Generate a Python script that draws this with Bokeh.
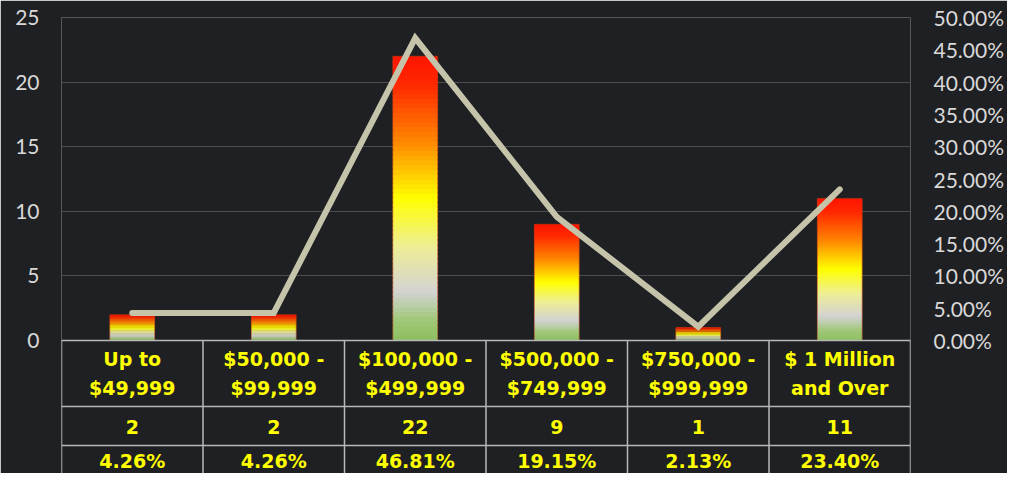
import numpy as np
from bokeh.plotting import figure
from bokeh.models import Range1d, LinearAxis, FixedTicker, Legend, LegendItem, CustomJSTickFormatter
from bokeh.embed import file_html
from bokeh.resources import INLINE
from bokeh.core.properties import value

# ---------------- data ----------------
cat_line1 = ["Up to", "$50,000 -", "$100,000 -", "$500,000 -", "$750,000 -", "$ 1 Million"]
cat_line2 = ["$49,999", "$99,999", "$499,999", "$749,999", "$999,999", "and Over"]
counts = [2, 2, 22, 9, 1, 11]
percents = [4.26, 4.26, 46.81, 19.15, 2.13, 23.40]
left_ticks = [0, 5, 10, 15, 20, 25]
right_ticks = [0, 5, 10, 15, 20, 25, 30, 35, 40, 45, 50]
row_header = "Range"

# ---------------- layout constants ----------------
W, H = 1007, 473
TOP, LEFT, FRAME_RIGHT = 17, 61, 912
RIGHT = W - FRAME_RIGHT
ZERO_PX = 340
PX_PER_UNIT = (ZERO_PX - TOP) / 25.0
Y_MAX = 25.0
Y_MIN = Y_MAX - (H - TOP) / PX_PER_UNIT
n = len(counts)
xs = np.arange(n)


def ref_y(py):
    # convert a pixel row to a data value (zero line at ZERO_PX)
    return (ZERO_PX - py) / PX_PER_UNIT


BG = "#1f2023"
TXT = "#d9d9d9"
YEL = "#ffff00"
FONT = "DejaVu Sans"
TICK_FONT = "Lato"

p = figure(width=W, height=H, output_backend="svg", toolbar_location=None,
           x_range=Range1d(-0.5, n - 0.5), y_range=Range1d(Y_MIN, Y_MAX),
           x_axis_location=None, y_axis_location=None,
           min_border_left=LEFT, min_border_right=RIGHT, min_border_top=TOP, min_border_bottom=0)
p.background_fill_color = BG
p.border_fill_color = BG
p.outline_line_color = None
p.xgrid.visible = False
p.extra_y_ranges = {"pct": Range1d(Y_MIN * 2, Y_MAX * 2)}

# axes
la = LinearAxis(ticker=FixedTicker(ticks=left_ticks))
ra = LinearAxis(y_range_name="pct", ticker=FixedTicker(ticks=right_ticks),
                formatter=CustomJSTickFormatter(code="return tick.toFixed(2) + '%';"))
for ax, so in ((la, 22), (ra, 23)):
    ax.axis_line_color = None
    ax.major_tick_line_color = None
    ax.minor_tick_line_color = None
    ax.major_tick_out = 0
    ax.major_tick_in = 0
    ax.major_label_standoff = so
    ax.major_label_text_font = TICK_FONT
    ax.major_label_text_font_size = "21px"
    ax.major_label_text_color = TXT
p.add_layout(la, "left")
p.add_layout(ra, "right")

p.ygrid.ticker = FixedTicker(ticks=left_ticks[1:])
p.ygrid.grid_line_color = "#4d4d4d"
p.ygrid.grid_line_width = 1

# ---------------- gradient bars ----------------
stops = [(0.0, (255, 20, 0)), (0.1, (255, 40, 0)), (0.3, (255, 135, 0)), (0.5, (255, 255, 0)),
         (0.67, (238, 238, 150)), (0.83, (210, 210, 210)), (0.93, (160, 200, 120)),
         (1.0, (140, 190, 95))]


def grad(t):
    for (a, ca), (b, cb) in zip(stops[:-1], stops[1:]):
        if a <= t <= b:
            f = (t - a) / (b - a)
            c = [int(round(ca[k] + (cb[k] - ca[k]) * f)) for k in range(3)]
            return "#%02x%02x%02x" % tuple(c)
    return "#%02x%02x%02x" % stops[-1][1]


BW = 0.317
NSEG = 60
L, R, T, B, C = [], [], [], [], []
for i, h in enumerate(counts):
    for k in range(NSEG):
        t0, t1 = k / NSEG, (k + 1) / NSEG
        L.append(xs[i] - BW / 2)
        R.append(xs[i] + BW / 2)
        T.append(h * (1 - t0))
        B.append(max(0.0, h * (1 - t1) - h / NSEG * 0.6))
        C.append(grad((t0 + t1) / 2))
p.quad(left=L, right=R, top=T, bottom=B, fill_color=C, line_color=None)
p.quad(left=xs - BW / 2, right=xs + BW / 2, top=counts, bottom=0,
       fill_color=None, line_color="#c83c14", line_alpha=0.5, line_width=1)

# ---------------- line ----------------
p.line(xs, percents, y_range_name="pct", line_color="#c5c4aa", line_width=6,
       line_join="miter", line_cap="round")

# ---------------- data table ----------------
LC = "#b8b8b8"
row_lines = [ref_y(406), ref_y(445)]
vx = list(np.arange(n + 1) - 0.5)
p.segment(x0=vx, y0=[0] * len(vx), x1=vx, y1=[Y_MIN] * len(vx), line_color=LC, line_width=1.5)
hseg = p.segment(x0=[-0.5] * 3, y0=[0] + row_lines, x1=[n - 0.5] * 3, y1=[0] + row_lines,
                 line_color=LC, line_width=1.5)

tk = dict(text_font=value(FONT), text_font_style="bold", text_font_size="19px",
          text_color=YEL, text_align="center", text_baseline="middle")
p.text(xs, [ref_y(358)] * n, text=cat_line1, **tk)
p.text(xs, [ref_y(387)] * n, text=cat_line2, **tk)
cnt_r = p.text(xs, [ref_y(426)] * n, text=[str(c) for c in counts], **tk)
p.text(xs, [ref_y(460)] * n, text=["%.2f%%" % v for v in percents], **tk)

# row header of the data table, left of the plot frame (cut by the canvas edge)
hdr = Legend(items=[LegendItem(label=row_header, renderers=[cnt_r])],
             location=(-75, 37), glyph_width=0, glyph_height=20, label_standoff=0,
             label_height=20, padding=0, margin=0, spacing=0,
             background_fill_alpha=0, border_line_color=None,
             label_text_font=FONT, label_text_font_style="bold", label_text_font_size="19px",
             label_text_color=YEL)
p.add_layout(hdr)

# table row lines continuing left of the frame
stubs = Legend(items=[LegendItem(label=" ", renderers=[hseg]), LegendItem(label=" ", renderers=[hseg])],
               location=(-LEFT, 8.5), glyph_width=LEFT, glyph_height=39, label_height=39,
               label_width=0, label_standoff=0, padding=0, margin=0, spacing=0,
               background_fill_alpha=0, border_line_color=None, label_text_font_size="1px")
p.add_layout(stubs)

open("out.html", "w").write(file_html(p, INLINE))
